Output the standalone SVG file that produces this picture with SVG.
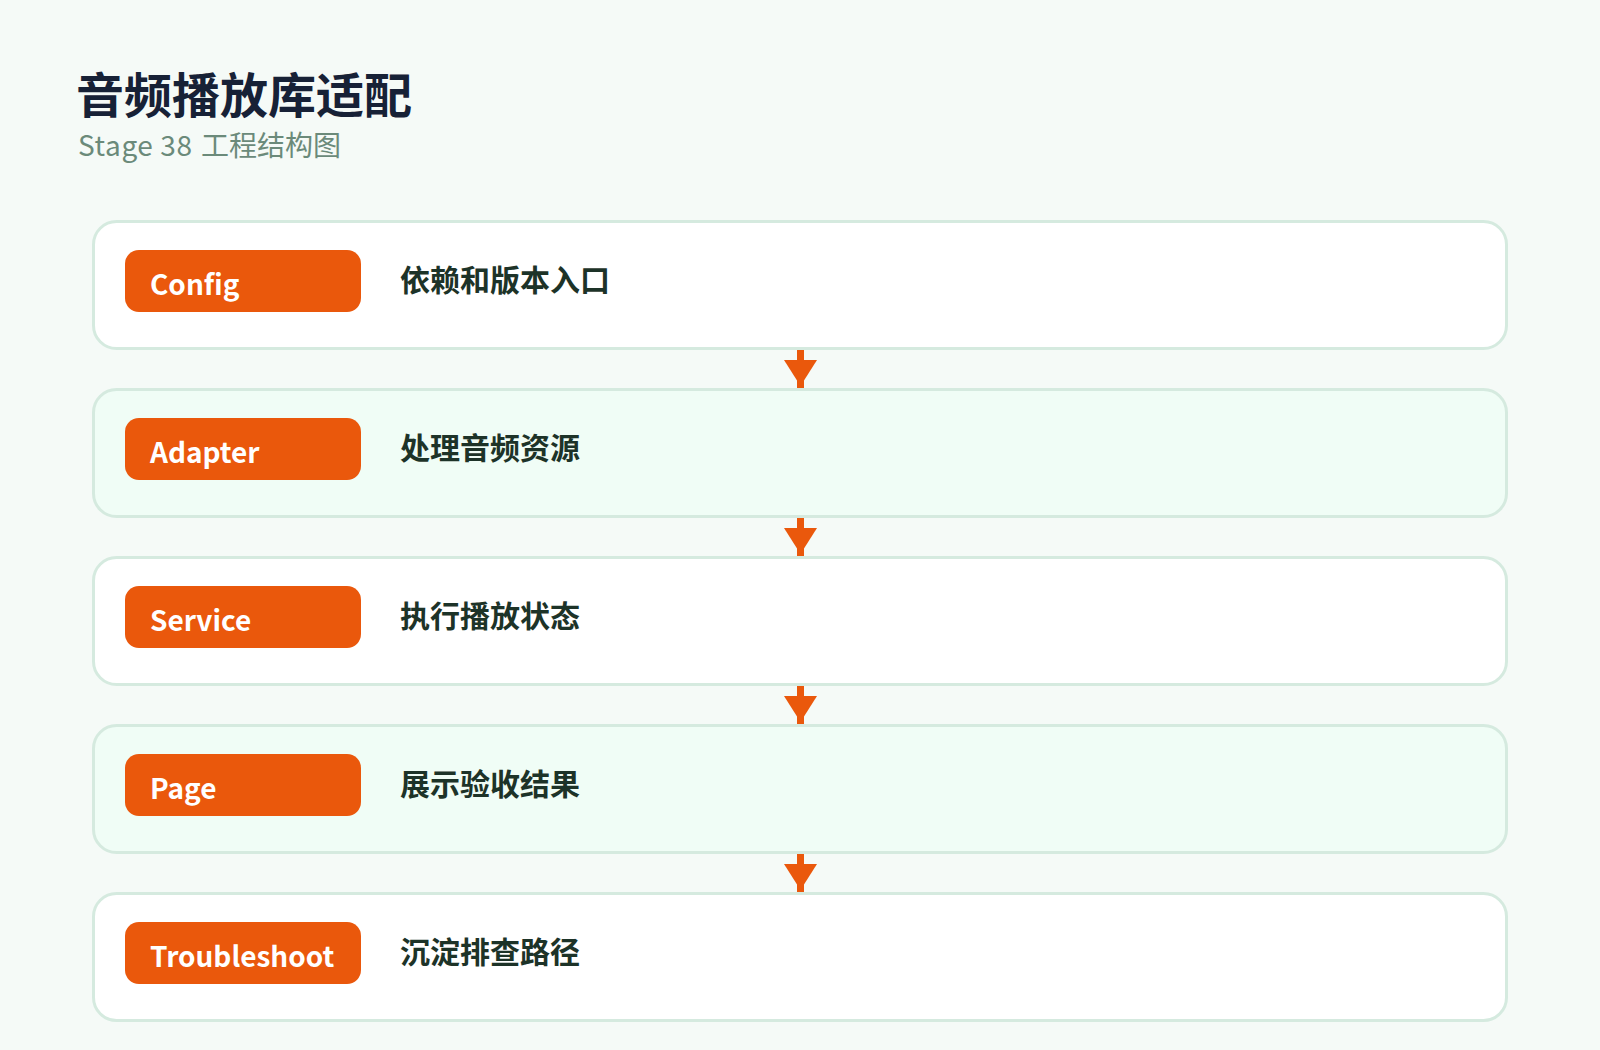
<svg xmlns="http://www.w3.org/2000/svg" width="1600" height="1050" viewBox="0 0 1600 1050">
  <defs>
    <style>
      .bg { fill: #f5faf7; }
      .card { stroke: #d5eadf; stroke-width: 3; }
      .card-a { fill: #ffffff; }
      .card-b { fill: #f0fdf6; }
      .pill { fill: #ea580c; }
      .pill-text { font-family: "Noto Sans CJK SC", "Noto Sans", sans-serif; font-size: 28px; font-weight: 700; fill: #ffffff; }
      .desc { font-family: "Noto Sans CJK SC", sans-serif; font-size: 30px; font-weight: 700; fill: #1d3328; }
      .title { font-family: "Noto Sans CJK SC", sans-serif; font-size: 48px; font-weight: 700; fill: #172136; }
      .subtitle { font-family: "Noto Sans CJK SC", "Noto Sans", sans-serif; font-size: 28px; font-weight: 400; fill: #6b8a7a; }
      .conn { stroke: #ea580c; stroke-width: 7; fill: none; }
      .head { fill: #ea580c; }
    </style>
  </defs>
  <rect class="bg" x="0" y="0" width="1600" height="1050"/>

  <g id="header">
    <text class="title" x="76" y="113">音频播放库适配</text>
    <text class="subtitle" x="78" y="156" letter-spacing="0.6">Stage 38 <tspan x="201" letter-spacing="0">工程结构图</tspan></text>
  </g>

  <g id="node-config">
    <rect class="card card-a" x="93.5" y="221.5" width="1413" height="127" rx="23"/>
    <rect class="pill" x="125" y="250" width="236" height="62" rx="14"/>
    <text class="pill-text" x="150" y="295">Config</text>
    <text class="desc" x="400" y="291">依赖和版本入口</text>
  </g>

  <g id="node-adapter">
    <rect class="card card-b" x="93.5" y="389.5" width="1413" height="127" rx="23"/>
    <rect class="pill" x="125" y="418" width="236" height="62" rx="14"/>
    <text class="pill-text" x="150" y="463">Adapter</text>
    <text class="desc" x="400" y="459">处理音频资源</text>
  </g>

  <g id="node-service">
    <rect class="card card-a" x="93.5" y="557.5" width="1413" height="127" rx="23"/>
    <rect class="pill" x="125" y="586" width="236" height="62" rx="14"/>
    <text class="pill-text" x="150" y="631">Service</text>
    <text class="desc" x="400" y="627">执行播放状态</text>
  </g>

  <g id="node-page">
    <rect class="card card-b" x="93.5" y="725.5" width="1413" height="127" rx="23"/>
    <rect class="pill" x="125" y="754" width="236" height="62" rx="14"/>
    <text class="pill-text" x="150" y="799">Page</text>
    <text class="desc" x="400" y="795">展示验收结果</text>
  </g>

  <g id="node-troubleshoot">
    <rect class="card card-a" x="93.5" y="893.5" width="1413" height="127" rx="23"/>
    <rect class="pill" x="125" y="922" width="236" height="62" rx="14"/>
    <text class="pill-text" x="150" y="967">Troubleshoot</text>
    <text class="desc" x="400" y="963">沉淀排查路径</text>
  </g>

  <g id="connectors">
    <line class="conn" x1="800.5" y1="350" x2="800.5" y2="388"/>
    <polygon class="head" points="784,360 817,360 800.5,386"/>
    <line class="conn" x1="800.5" y1="518" x2="800.5" y2="556"/>
    <polygon class="head" points="784,528 817,528 800.5,554"/>
    <line class="conn" x1="800.5" y1="686" x2="800.5" y2="724"/>
    <polygon class="head" points="784,696 817,696 800.5,722"/>
    <line class="conn" x1="800.5" y1="854" x2="800.5" y2="892"/>
    <polygon class="head" points="784,864 817,864 800.5,890"/>
  </g>
</svg>
